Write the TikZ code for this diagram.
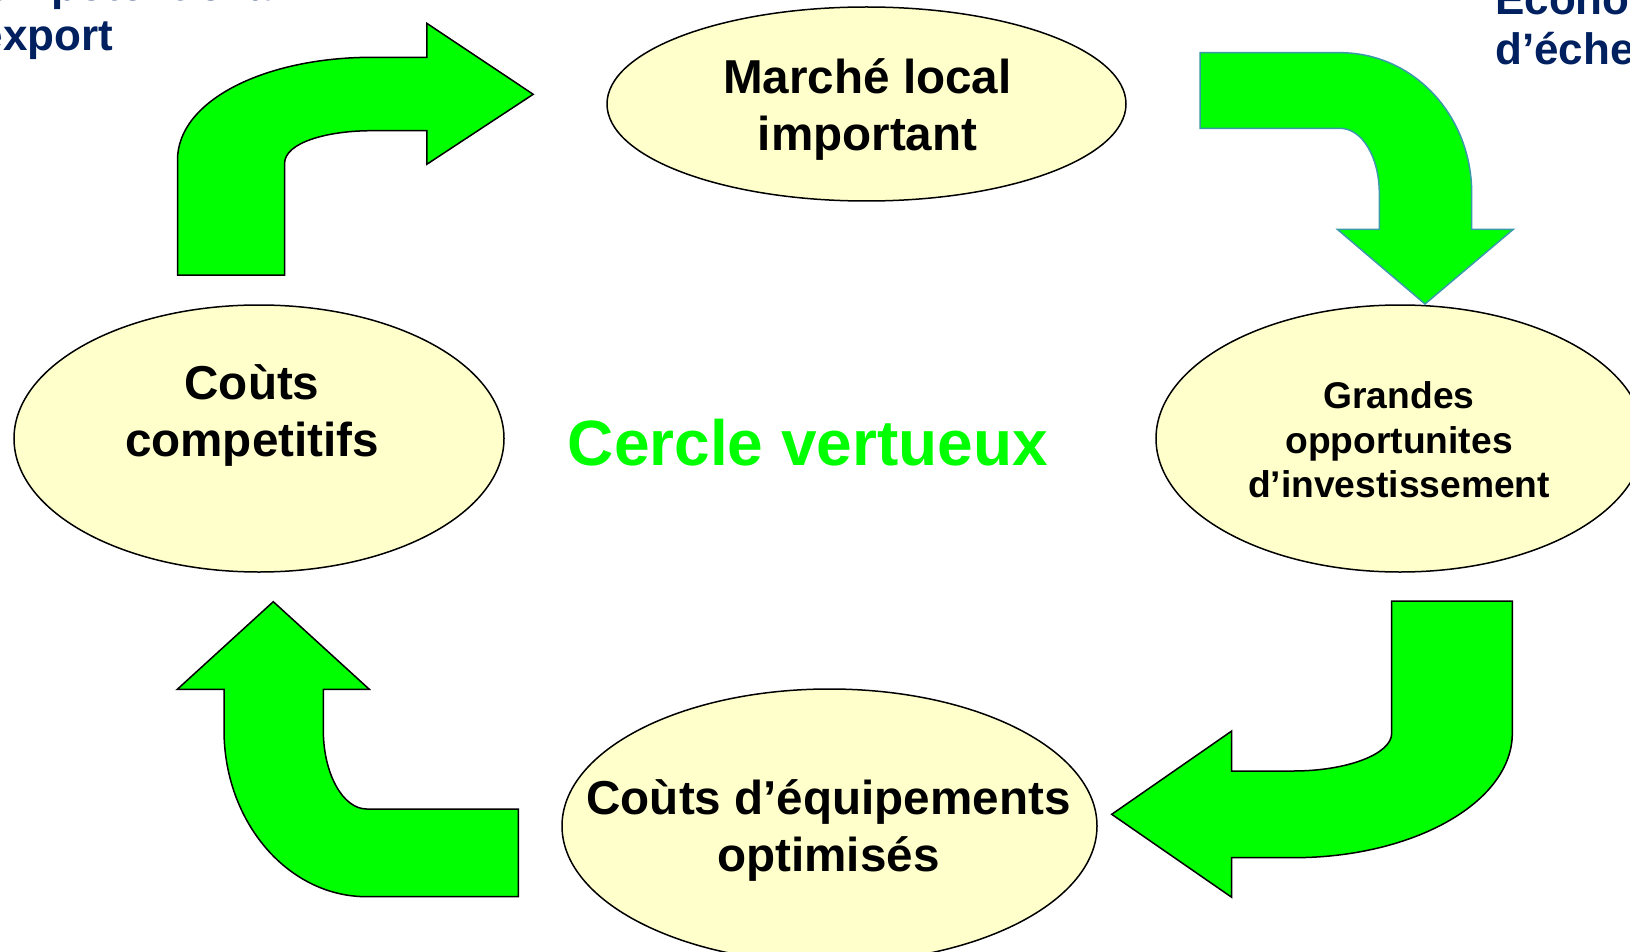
\documentclass[tikz,border=0pt]{standalone}
\usepackage{fontspec}
\setmainfont{Liberation Sans}
\usepackage{xcolor}
\usepackage{tikz}
\usetikzlibrary{shapes.geometric,positioning}
\definecolor{vertvif}{HTML}{00FF00}
\definecolor{jaunepale}{HTML}{FFFFCC}
\definecolor{bleunuit}{HTML}{002060}
\definecolor{bordsarcelle}{HTML}{3A9BA8}

\tikzset{
  bulle/.style={ellipse, draw=black, fill=jaunepale, line width=1.5pt, inner sep=0pt},
  grostexte/.style={font=\fontsize{47.6}{57}\selectfont\bfseries, align=center},
  petittexte/.style={font=\fontsize{37.2}{44.7}\selectfont\bfseries, align=center},
  coin/.style={font=\fontsize{44}{50}\selectfont\bfseries, text=bleunuit, align=left, inner sep=0pt},
  fleche/.style={fill=vertvif, draw=black, line width=1.5pt, line join=miter}
}

\begin{document}
\begin{tikzpicture}[x=1pt, y=-1pt]
    \useasboundingbox (0,0) rectangle (1630,952);

    % textes coupes en haut
    \node[coin, anchor=base west] (export) at (-46,50.7) {Bon potentiel à\\l’export};
    \node[coin, anchor=base west] (echelle) at (1495,65) {Economies\\d’échelle};

    % les quatre bulles
    \node[bulle, minimum width=519pt, minimum height=194pt] (marche) at (866.5,104) {};
    \node[bulle, minimum width=488pt, minimum height=267pt] (grandes) at (1400,438.5) {};
    \node[bulle, minimum width=535pt, minimum height=274pt] (equip) at (829.5,826) {};
    \node[bulle, minimum width=490pt, minimum height=267pt] (couts) at (259,438.5) {};

    \node[grostexte] (marche-txt) at ([shift={(1,5)}]marche.center) {Marché local\\important};
    \node[petittexte] (grandes-txt) at ([shift={(-1,1.5)}]grandes.center) {Grandes\\opportunites\\d’investissement};
    \node[grostexte] (equip-txt) at ([shift={(-1,4)}]equip.center) {Coùts d’équipements\\optimisés};
    \node[grostexte] (couts-txt) at ([shift={(-7,-23)}]couts.center) {Coùts\\competitifs};

    \node[font=\fontsize{64}{70}\selectfont\bfseries, text=vertvif, anchor=base] (cercle) at (808,465) {Cercle vertueux};

    % fleches courbes
    \draw[fleche] (177.5,275) -- (177.5,160) .. controls (177.5,100) and (266,57.3) .. (372,57.3)
      -- (426.8,57.3) -- (426.8,23.3) -- (533.2,94.3) -- (426.8,164.3) -- (426.8,130.7) -- (372,130.7)
      .. controls (326,130.7) and (284.6,143) .. (284.6,163.3) -- (284.6,275) -- cycle;
    \draw[fleche, draw=bordsarcelle] (1200,52.7) -- (1340,52.7) .. controls (1413,52.7) and (1471.7,115) .. (1471.7,193.3)
      -- (1471.7,229.3) -- (1513.3,229.3) -- (1425,304) -- (1337.3,229.3) -- (1379.3,229.3) -- (1379.3,193.3)
      .. controls (1379.3,157) and (1362,128.3) .. (1340,128.3) -- (1200,128.3) -- cycle;
    \draw[fleche] (1391.7,601) -- (1512.3,601) -- (1512.3,733.3) .. controls (1512.3,802) and (1414,857.7) .. (1293.3,857.7)
      -- (1231.7,857.7) -- (1231.7,897.3) -- (1111.7,814.3) -- (1231.7,731) -- (1231.7,771) -- (1293.3,771)
      .. controls (1347,771) and (1391.7,754) .. (1391.7,733.3) -- cycle;
    \draw[fleche] (518.3,809) -- (518.3,896.7) -- (366.7,896.7) .. controls (287.9,896.7) and (224,822) .. (224,730)
      -- (224,689.3) -- (177.3,689.3) -- (273.3,601.7) -- (369.3,689.3) -- (323.3,689.3) -- (323.3,730)
      .. controls (323.3,774) and (343,809) .. (366.7,809) -- cycle;
\end{tikzpicture}
\end{document}
